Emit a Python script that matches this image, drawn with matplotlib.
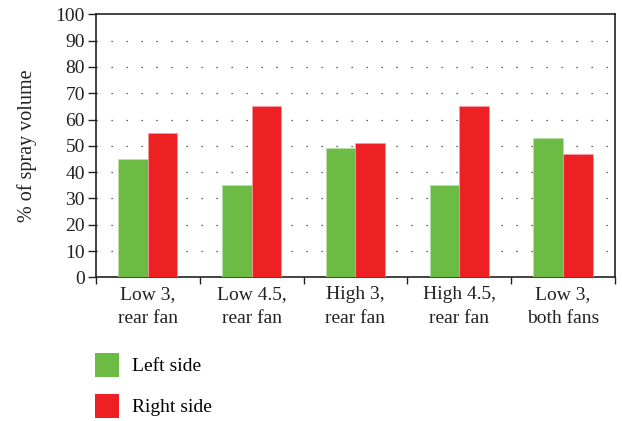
import matplotlib.pyplot as plt
from matplotlib.patches import Patch
import numpy as np

categories = ["Low 3,\nrear fan", "Low 4.5,\nrear fan", "High 3,\nrear fan",
              "High 4.5,\nrear fan", "Low 3,\nboth fans"]
left_side = [45, 35, 49, 35, 53]
right_side = [55, 65, 51, 65, 47]
series_names = ["Left side", "Right side"]

green = "#6cbb45"
red = "#ed2024"

plt.rcParams['font.family'] = ['Liberation Serif', 'DejaVu Serif']

fig = plt.figure(figsize=(6.22, 4.21), dpi=100)
ax = fig.add_axes([0.1543, 0.3413, 0.9887 - 0.1543, 0.966 - 0.3413])

x = np.arange(len(categories))
w = 0.285
ax.bar(x - w / 2, left_side, w, color=green, edgecolor="#b8e0a4", linewidth=0.5, zorder=3)
ax.bar(x + w / 2, right_side, w, color=red, edgecolor="#f6a0a2", linewidth=0.5, zorder=3)

ax.set_xlim(-0.5, len(categories) - 0.5)
ax.set_ylim(0, 100)
ax.set_yticks(np.arange(0, 101, 10))

# boundary ticks, labels at centres
ax.set_xticks(np.arange(-0.5, len(categories), 1.0))
ax.set_xticklabels([])
ax.set_xticks(x, minor=True)
ax.set_xticklabels(categories, minor=True, linespacing=1.6)
ax.tick_params(axis="x", which="major", direction="out", length=5, width=1, color="#222222")
ax.tick_params(axis="x", which="minor", length=0, pad=6, labelsize=14, colors="#222222")
ax.tick_params(axis="y", direction="out", length=6, width=1, labelsize=14, pad=2, colors="#222222")

for y in range(10, 100, 10):
    ax.axhline(y, color="#333333", linestyle=(0, (1, 11)), linewidth=0.9, zorder=1)

for s in ax.spines.values():
    s.set_linewidth(1.2)
    s.set_color("#222222")

ax.set_ylabel("% of spray volume", fontsize=14.5, color="#222222", labelpad=13)

handles = [Patch(facecolor=green), Patch(facecolor=red)]
fig.legend(handles, series_names, loc="upper left", bbox_to_anchor=(0.153, 0.162),
           frameon=False, fontsize=14, handlelength=1.25, handleheight=1.55,
           handletextpad=0.65, labelspacing=0.85, borderpad=0, borderaxespad=0)

fig.savefig("out.png", dpi=100)
